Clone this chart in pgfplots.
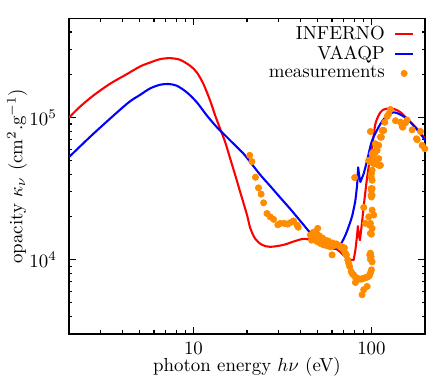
\documentclass[border=0pt]{standalone}
\usepackage{pgfplots}
\pgfplotsset{compat=1.18}
\definecolor{meas}{RGB}{255,140,0}
\pgfplotsset{measleg/.style={legend image code/.code={\draw[mark repeat=2,mark phase=2,##1] plot coordinates {(0pt,0pt) (4.7pt,0pt) (9.4pt,0pt)};}}}
\pgfplotstableread{
x y
20.7 54200
21.3 49000
22.3 38000
23.2 32000
24.0 28900
24.8 25100
25.9 21100
27.0 20000
28.2 19200
29.8 17600
30.8 18000
32.4 18000
33.8 17800
35.3 18300
36.5 18700
38.2 17500
38.8 16900
45.4 14900
46.1 13700
46.7 14100
47.2 15600
49.9 16600
49.0 15300
48.4 14700
49.5 13400
50.5 13700
51.0 14700
51.6 13000
52.8 13000
53.0 14200
53.9 12700
55.1 13700
56.3 12900
56.3 12500
57.3 13500
58.8 12300
60.1 10800
60.3 13100
61.3 12500
62.7 12700
63.5 12900
65.5 12500
66.9 12500
68.4 12300
69.8 11700
70.5 12100
71.4 11100
72.3 10800
73.6 9950
74.5 9410
75.5 8930
76.9 8240
78.2 7940
79.5 7810
81.3 7500
83.1 7410
84.8 7300
86.7 7290
88.6 7300
90.5 7410
92.5 7450
94.6 7530
96.6 7630
97.8 7810
98.7 8070
100 8470
100.9 9640
81.3 6900
94.6 6470
90.5 6140
88.6 5660
97.8 10800
98.7 11100
99.6 10500
98.7 10060
97.8 17500
98.7 15300
100.9 16600
100 15100
96.6 20000
98.7 18000
92.5 18000
103 20600
100.9 22300
90.5 23300
100 27600
100.9 28400
99.6 28400
99.6 31600
100.9 31600
100 30800
100.9 36200
100 40300
99.6 38200
100.9 42600
80.5 37800
96.6 50000
98.7 48600
100.9 48600
103 47400
105.3 47400
109.9 46100
110.9 46100
112.4 46100
109.9 51400
103 50000
100.9 55700
103 52700
103 57100
107.7 58800
107.7 62000
105.3 57100
105.3 65400
109.9 63700
112.4 72800
113.8 72800
114.8 81100
117.3 81100
118.8 92700
122.6 102000
125.1 106000
127.9 114000
98.7 79800
136.5 95000
145.6 92700
148.9 86500
150 85500
155.4 91800
158.8 96000
169.4 82000
179.2 70900
180.8 69800
188.7 79800
192.9 63700
199.5 60400
}\meastable
\begin{document}
\begin{tikzpicture}
\begin{axis}[
  xmode=log, ymode=log,
  scale only axis, width=188.7pt, height=167.3pt,
  xmin=2, xmax=200, ymin=3000, ymax=5e5,
  xtick={10,100}, xticklabels={10,100},
  ytick={1e4,1e5}, yticklabels={$10^4$,$10^5$},
  minor xtick={2,3,4,5,6,7,8,9,20,30,40,50,60,70,80,90,200},
  minor ytick={3000,4000,5000,6000,7000,8000,9000,20000,30000,40000,50000,60000,70000,80000,90000,200000,300000,400000,500000},
  tick align=inside,
  major tick length=3.5pt, minor tick length=1.8pt,
  every tick/.style={black, line width=0.6pt},
  axis line style={line width=0.8pt},
  xlabel={photon energy $h\nu$ (eV)},
  ylabel={opacity $\kappa_\nu$ (cm$^2$.g$^{-1}$)},
  xlabel style={at={(axis description cs:0.5,-0.103)}, anchor=center, inner sep=0pt},
  ylabel style={at={(axis description cs:-0.146,0.5)}, anchor=center},
  xticklabel style={inner sep=0pt, yshift=-4.0pt},
  yticklabel style={xshift=-3pt},
  legend style={draw=none, fill=none, at={(axis description cs:1,1)}, anchor=north east,
    xshift=-2.6pt, yshift=0pt, row sep=-2pt,
    /tikz/column 1/.style={column sep=3pt}},
  legend plot pos=right,
  legend cell align=right,
  legend image code/.code={\draw[#1] (0pt,0pt) -- (9.4pt,0pt);},
]
\addplot[red, line width=1.1pt, line join=round, smooth] coordinates {
(2,1.0e5) (2.30,1.19e5) (2.74,1.43e5) (3.40,1.73e5) (4.22,2.02e5) (5.01,2.288e5)
(5.71,2.441e5) (6.50,2.578e5) (7.39,2.620e5) (8.42,2.549e5) (9.58,2.314e5) (10.45,2.077e5)
(11.38,1.723e5) (12.41,1.316e5) (13.25,1.033e5) (14.13,8.33e4) (15.08,6.71e4) (16.09,5.14e4)
(17.2,3.9e4) (18.3,3.0e4)
(20.0,2.06e4) (20.85,1.67e4) (22.25,1.40e4) (24.3,1.27e4) (27.0,1.23e4) (32.1,1.27e4)
(36.5,1.34e4) (41.6,1.40e4) (47.4,1.37e4) (51.6,1.35e4) (58.8,1.27e4) (66.9,1.13e4)
(71.4,1.045e4) (76.2,9950)
};
\addlegendentry{INFERNO}
\addplot[blue, line width=1.1pt, line join=round, smooth] coordinates {
(2,5.27e4) (2.74,7.69e4) (4.22,1.247e5) (5.01,1.443e5) (5.71,1.604e5) (6.50,1.703e5)
(7.23,1.723e5) (8.06,1.676e5) (9.18,1.504e5) (10.45,1.280e5) (11.9,1.033e5) (13.54,8.55e4)
(14.75,7.69e4) (16.8,6.54e4) (19.11,5.57e4) (20.85,4.86e4) (23.74,3.95e4) (27.02,3.29e4)
(30.75,2.73e4) (35.02,2.27e4) (39.86,1.87e4) (45.39,1.54e4) (49.5,1.386e4) (53.9,1.299e4)
(58.8,1.227e4) (62.7,1.189e4) (66.9,1.278e4) (69.8,1.397e4) (73.0,1.589e4) (77.9,2.024e4)
(81.3,2.62e4)
};
\addlegendentry{VAAQP}
\addplot[only marks, mark=*, mark size=1.65pt, color=meas, mark options={fill=meas, draw=meas}, measleg]
  table[x=x, y=y] {\meastable};
\addlegendentry{measurements}
% remaining segments of the two curves
\addplot[red, line width=1.1pt, line join=round, forget plot] coordinates {
(76.2,9950) (79.5,9950) (81.3,1.17e4) (83.1,1.49e4) (83.9,1.72e4)
(85.1,1.47e4) (86.2,1.37e4) (88.6,1.84e4)
};
\addplot[red, line width=1.1pt, line join=round, smooth, forget plot] coordinates {
(88.6,1.84e4) (91.3,2.62e4) (94.6,3.80e4) (97.8,5.0e4)
(100.9,6.16e4) (105.3,9.03e4) (112.4,1.09e5) (119.9,1.15e5) (133.5,1.15e5)
(145.6,1.09e5) (158.8,9.79e4) (180.8,8.33e4) (200,7.09e4)
};
\addplot[blue, line width=1.1pt, line join=round, forget plot] coordinates {
(81.3,2.62e4) (83.1,3.34e4) (84.2,4.46e4) (85.6,3.80e4) (86.7,3.52e4) (90.5,4.03e4)
};
\addplot[blue, line width=1.1pt, line join=round, smooth, forget plot] coordinates {
(90.5,4.03e4) (94.6,4.99e4)
(100.9,6.90e4) (112.4,9.03e4) (122.6,1.033e5) (133.5,1.089e5) (148.9,1.033e5)
(165.8,9.27e4) (188.7,7.69e4) (200,6.90e4)
};
\end{axis}
\path ([shift={(-36.6pt,-24.9pt)}]current axis.south west) rectangle ([shift={(5.3pt,9.7pt)}]current axis.north east);
\end{tikzpicture}
\end{document}
